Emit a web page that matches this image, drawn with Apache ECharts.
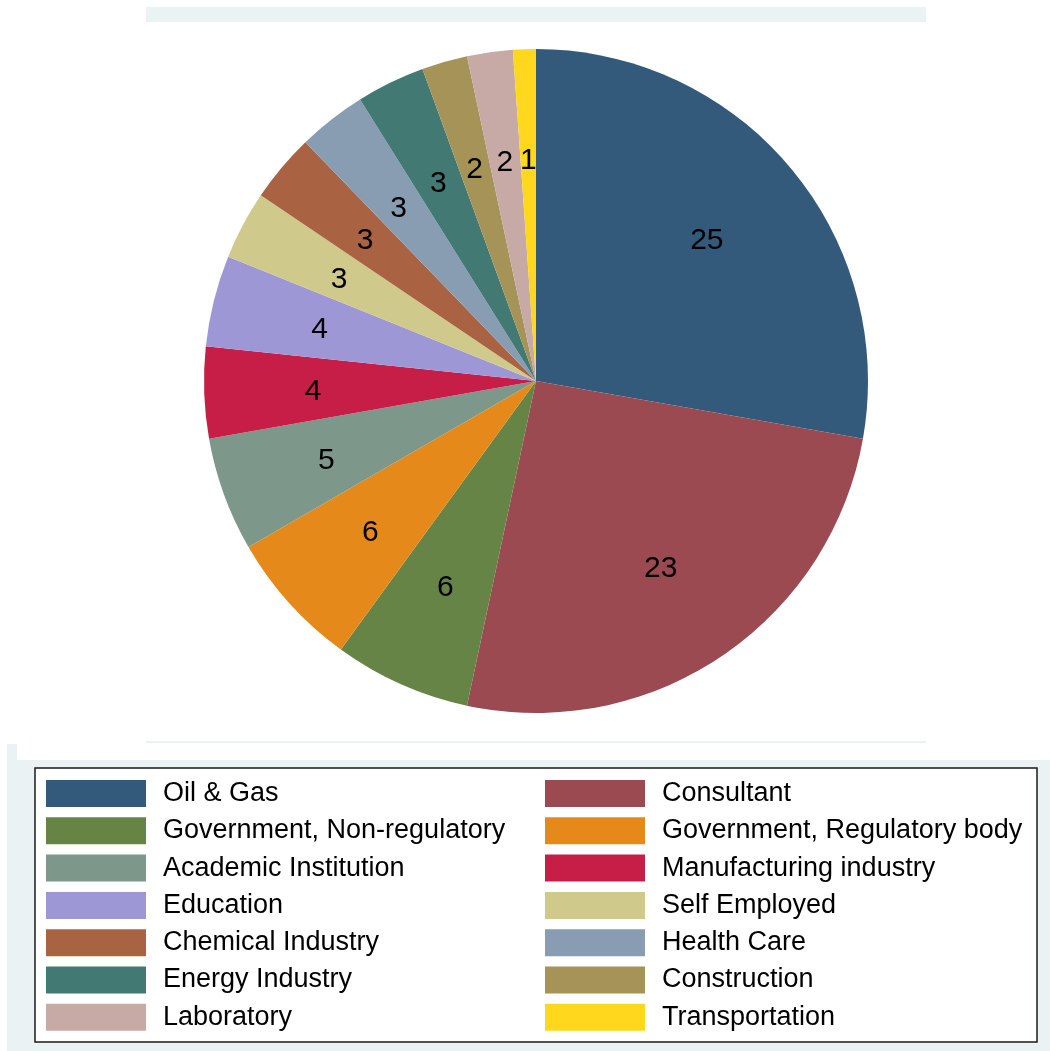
<!DOCTYPE html>
<html>
<head>
<meta charset="utf-8">
<script src="https://cdn.jsdelivr.net/npm/echarts@6/dist/echarts.min.js"></script>
<style>
html,body{margin:0;padding:0;background:#fff;}
#chart{width:1050px;height:1051px;}
</style>
</head>
<body>
<div id="chart"></div>
<script>
// Data (clockwise from 12 o'clock)
const categories = ['Oil & Gas','Consultant','Government, Non-regulatory','Government, Regulatory body','Academic Institution','Manufacturing industry','Education','Self Employed','Chemical Industry','Health Care','Energy Industry','Construction','Laboratory','Transportation'];
const counts = [25,23,6,6,5,4,4,3,3,3,3,2,2,1];
const colors = ['#335a7b','#9a4a50','#668446','#e58a1a','#7d978b','#c71e47','#9e97d6','#cfc98c','#a96343','#889db2','#427a73','#a69358','#c7aaa5','#ffd71c'];
const legendLeft = ['Oil & Gas','Government, Non-regulatory','Academic Institution','Education','Chemical Industry','Energy Industry','Laboratory'];
const legendRight = ['Consultant','Government, Regulatory body','Manufacturing industry','Self Employed','Health Care','Construction','Transportation'];

const chart = echarts.init(document.getElementById('chart'), null, {renderer:'canvas'});
const font = 'Liberation Sans, Arial, Helvetica, sans-serif';
const pieData = categories.map((c,i)=>({name:c, value:counts[i], itemStyle:{color:colors[i]}}));
const labelData = categories.map((c,i)=>({name:c, value:counts[i]}));

const legendCommon = {
  orient:'vertical', top:777, height:290, padding:0, itemWidth:100, itemHeight:27, itemGap:4.3,
  icon:'rect', selectedMode:false,
  textStyle:{fontFamily:font, fontSize:27, color:'#000', lineHeight:27, padding:[6,0,0,12]}
};

chart.setOption({
  animation:false,
  backgroundColor:'#fff',
  graphic:[
    {type:'rect', shape:{x:146,y:7,width:780,height:15}, style:{fill:'#eaf2f3'}, z:-10},
    {type:'rect', shape:{x:146,y:741,width:780,height:2}, style:{fill:'#eaf2f3'}, z:-10},
    {type:'rect', shape:{x:7,y:744,width:10,height:16}, style:{fill:'#eaf2f3'}, z:-10},
    {type:'rect', shape:{x:7,y:760,width:1043,height:291}, style:{fill:'#eaf2f3'}, z:-10},
    {type:'rect', shape:{x:35,y:768,width:1002,height:274}, style:{fill:'#fff', stroke:'#1a1a1a', lineWidth:1.5}, z:-9}
  ],
  legend:[
    Object.assign({left:46, data:legendLeft}, legendCommon),
    Object.assign({left:545, data:legendRight}, legendCommon)
  ],
  series:[
    {
      type:'pie', center:[536,381], radius:[0,332], startAngle:90, clockwise:true,
      data:pieData, label:{show:false}, labelLine:{show:false},
      itemStyle:{borderWidth:0}, emphasis:{disabled:true}, silent:true
    },
    {
      type:'pie', center:[536,381], radius:[108,332], startAngle:90, clockwise:true,
      data:labelData, itemStyle:{color:'rgba(0,0,0,0)', borderWidth:0},
      label:{show:true, position:'inside', formatter:'{c}', color:'#000', fontFamily:font, fontSize:30, offset:[0,3]},
      labelLine:{show:false}, emphasis:{disabled:true}, silent:true, z:3
    }
  ]
});
</script>
</body>
</html>
